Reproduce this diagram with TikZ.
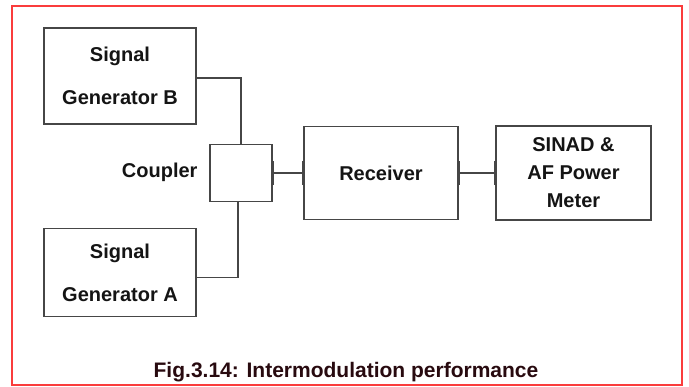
\documentclass[tikz,border=0pt]{standalone}
\usepackage{fontspec}
\setmainfont{Liberation Sans}
\usetikzlibrary{arrows.meta,positioning,calc}
\definecolor{frameRed}{RGB}{250,60,60}
\definecolor{boxGray}{RGB}{70,70,70}
\definecolor{inkBlack}{RGB}{20,20,20}
\definecolor{capInk}{RGB}{40,10,15}
\tikzset{
  unit/.style={draw=boxGray, line width=1.3pt, fill=white, align=center, inner sep=0pt, text=inkBlack, font=\fontsize{20}{43}\selectfont\bfseries},
  meter/.style={unit, font=\fontsize{20}{28}\selectfont\bfseries},
  wire/.style={draw=boxGray, line width=1.5pt},
  link/.style={wire, {Bar[width=24pt,line width=1.6pt]}-{Bar[width=24pt,line width=1.6pt]}},
  tag/.style={text=inkBlack, font=\fontsize{20}{24}\selectfont\bfseries}
}

\begin{document}
\begin{tikzpicture}[x=1pt,y=-1pt]
  \useasboundingbox (0,0) rectangle (689,387);
  \draw[frameRed, line width=2pt] (12,6) rectangle (682,385);

  \node[unit, minimum width=152pt, minimum height=96pt] (genB) at (120,76) {Signal\\Generator B};
  \node[unit, minimum width=152pt, minimum height=88pt] (genA) at (120,272.5) {Signal\\Generator A};
  \node[unit, minimum width=62pt, minimum height=57pt] (coupler) at (241,173) {};
  \node[tag, anchor=east] (cplabel) at (201,172) {Coupler};
  \node[unit, minimum width=154pt, minimum height=93pt] (rx) at (381,173) {Receiver};
  \node[meter, minimum width=155pt, minimum height=94pt] (sinad) at (573.5,173) {SINAD \&\\AF Power\\Meter};

  \draw[wire] ([yshift=-2pt]genB.east) -| (coupler.north);
  \draw[wire] ([yshift=-5pt]genA.east) -| ([xshift=-3pt]coupler.south);
  \draw[link] (coupler.east) -- (rx.west);
  \draw[link] (rx.east) -- (sinad.west);

  \node[text=capInk, font=\fontsize{21}{24}\selectfont\bfseries] (caption) at (346,372) {Fig.3.14: Intermodulation performance};
\end{tikzpicture}
\end{document}
